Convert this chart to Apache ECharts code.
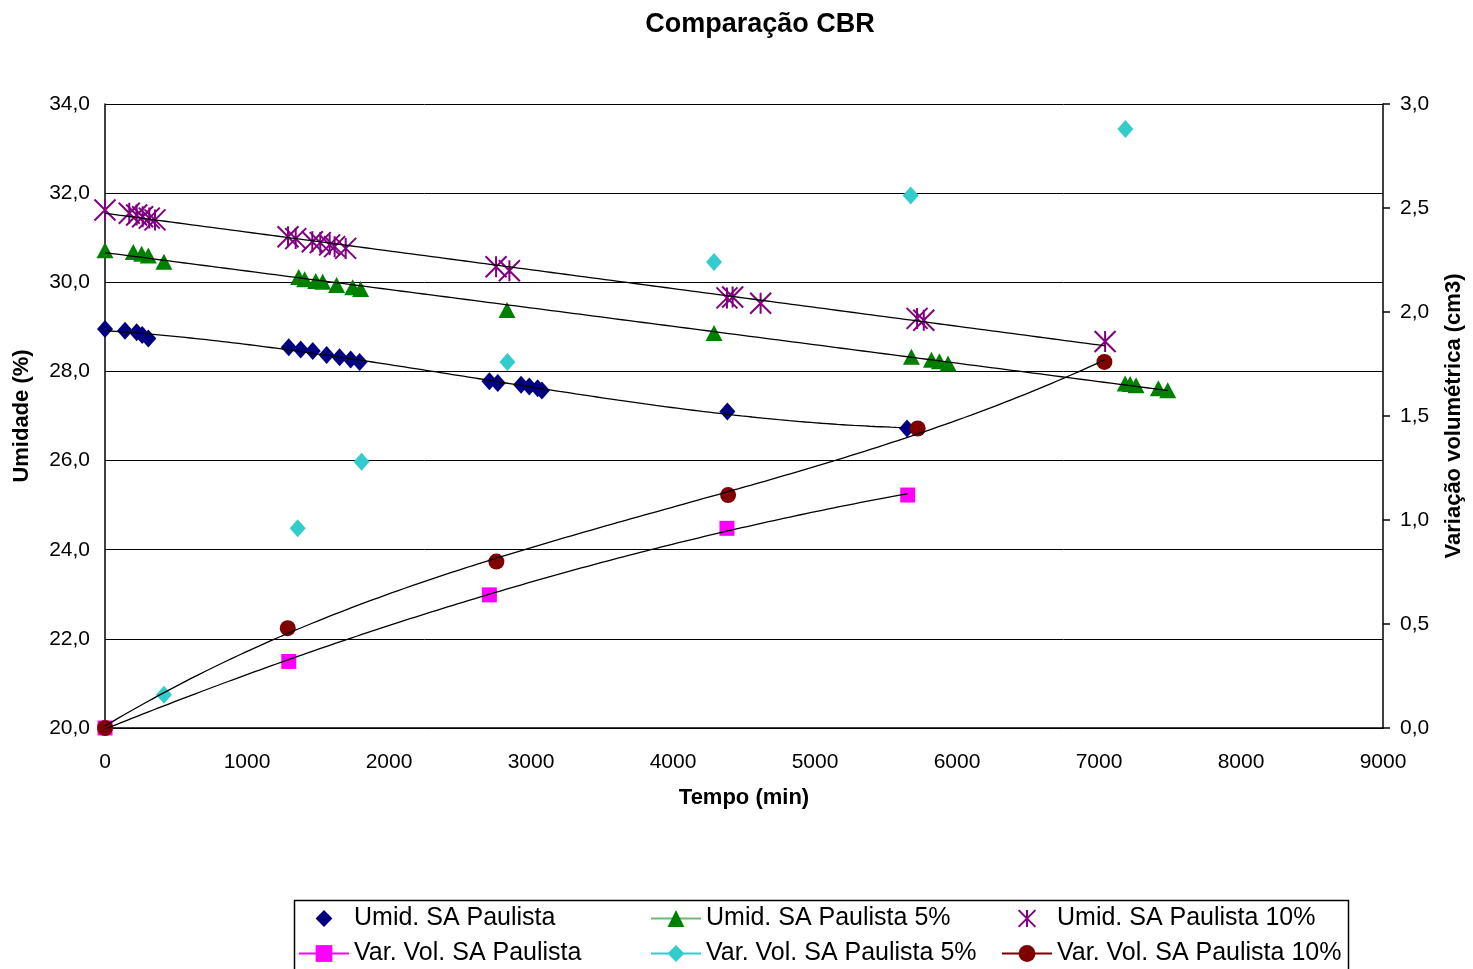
<!DOCTYPE html>
<html>
<head>
<meta charset="utf-8">
<script src="https://cdn.jsdelivr.net/npm/echarts@6/dist/echarts.min.js"></script>
<style>
html,body{margin:0;padding:0;background:#fff;}
#chart{width:1473px;height:969px;}
</style>
</head>
<body>
<div id="chart"></div>
<script>
// ---- Data ----
const umidSP_t = [0, 141, 223, 262, 305, 1294, 1378, 1463, 1561, 1652, 1730, 1793, 2707, 2766, 2930, 2988, 3047, 3077, 4383, 5648];
const umidSP_v = [28.95, 28.91, 28.88, 28.82, 28.74, 28.54, 28.49, 28.46, 28.37, 28.32, 28.27, 28.21, 27.78, 27.74, 27.70, 27.66, 27.62, 27.57, 27.10, 26.72];

const umid5_t = [0, 199, 258, 305, 415, 1364, 1406, 1484, 1533, 1631, 1744, 1800, 2831, 4289, 5679, 5820, 5876, 5937, 7184, 7219, 7261, 7418, 7484];
const umid5_v = [30.72, 30.68, 30.64, 30.60, 30.46, 30.12, 30.07, 30.03, 30.01, 29.94, 29.89, 29.85, 29.38, 28.86, 28.33, 28.26, 28.23, 28.18, 27.73, 27.72, 27.69, 27.62, 27.58];

const umid10_t = [0, 171, 223, 265, 312, 352, 1289, 1343, 1460, 1516, 1582, 1617, 1695, 2754, 2848, 4380, 4420, 4617, 5719, 5766, 7043];
const umid10_v = [31.62, 31.55, 31.51, 31.47, 31.44, 31.40, 31.02, 30.98, 30.91, 30.89, 30.84, 30.80, 30.76, 30.35, 30.26, 29.65, 29.67, 29.53, 29.19, 29.15, 28.67];

const vv_t = [0, 1294, 2707, 4380, 5653];
const vv_v = [0, 0.32, 0.64, 0.96, 1.12];

const vv5_t = [415, 1357, 1807, 2834, 4289, 5674, 7186];
const vv5_v = [0.16, 0.96, 1.28, 1.76, 2.24, 2.56, 2.88];

const vv10_t = [0, 1287, 2756, 4388, 5723, 7038];
const vv10_v = [0, 0.48, 0.80, 1.12, 1.44, 1.76];

const seriesNames = [
  'Umid. SA Paulista', 'Umid. SA Paulista 5%', 'Umid. SA Paulista 10%',
  'Var. Vol. SA Paulista', 'Var. Vol. SA Paulista 5%', 'Var. Vol. SA Paulista 10%'
];
const xTicks = {min: 0, max: 9000, step: 1000};
const yLeftTicks = {min: 20, max: 34, step: 2};
const yRightTicks = {min: 0, max: 3, step: 0.5};

// ---- helpers ----
function pairs(xs, ys) { return xs.map((x, i) => [x, ys[i]]); }
function polyfit(xs, ys, deg) {
  const s = 1000;
  const n = deg + 1;
  const A = Array.from({length: n}, () => new Array(n + 1).fill(0));
  for (let k = 0; k < xs.length; k++) {
    const x = xs[k] / s;
    for (let i = 0; i < n; i++) {
      for (let j = 0; j < n; j++) A[i][j] += Math.pow(x, i + j);
      A[i][n] += ys[k] * Math.pow(x, i);
    }
  }
  for (let i = 0; i < n; i++) {
    let p = i;
    for (let r = i + 1; r < n; r++) if (Math.abs(A[r][i]) > Math.abs(A[p][i])) p = r;
    [A[i], A[p]] = [A[p], A[i]];
    for (let r = 0; r < n; r++) {
      if (r === i) continue;
      const f = A[r][i] / A[i][i];
      for (let c = i; c <= n; c++) A[r][c] -= f * A[i][c];
    }
  }
  const coef = A.map((row, i) => row[n] / row[i]);
  return x => coef.reduce((acc, c, i) => acc + c * Math.pow(x / s, i), 0);
}
function trend(xs, ys, deg) {
  const f = polyfit(xs, ys, deg);
  const lo = Math.min(...xs), hi = Math.max(...xs);
  const out = [];
  const N = 150;
  for (let i = 0; i <= N; i++) { const x = lo + (hi - lo) * i / N; out.push([x, f(x)]); }
  return out;
}
const fmt = v => v.toFixed(1).replace('.', ',');
const FONT = 'Liberation Sans, Arial, sans-serif';
const ASTER = 'path://M0,0L20,20M20,0L0,20M10,0L10,20';

function trendSeries(xs, ys, deg, yIdx) {
  return {
    type: 'line', yAxisIndex: yIdx, data: trend(xs, ys, deg),
    showSymbol: false, symbol: 'none', silent: true, z: 5,
    lineStyle: {color: '#000', width: 1.3}, tooltip: {show: false}
  };
}
function markSeries(name, xs, ys, yIdx, symbol, size, itemStyle, lineColor) {
  return {
    name: name, type: 'line', yAxisIndex: yIdx, data: pairs(xs, ys),
    symbol: symbol, symbolSize: size, showSymbol: true, showAllSymbol: true,
    lineStyle: {opacity: 0, width: 2, color: lineColor}, itemStyle: itemStyle, z: 3
  };
}

const chart = echarts.init(document.getElementById('chart'), null, {renderer: 'canvas'});
const legendBase = {
  orient: 'vertical', top: 906, itemWidth: 50, itemHeight: 21, itemGap: 10, padding: 0,
  height: 120, selectedMode: false,
  textStyle: {fontFamily: FONT, fontSize: 25, color: '#000', lineHeight: 25}
};
const noLine = {opacity: 0};
const option = {
  backgroundColor: '#fff',
  animation: false,
  textStyle: {fontFamily: FONT},
  title: {
    text: 'Comparação CBR', left: 755, top: 6, textAlign: 'center',
    textStyle: {fontFamily: FONT, fontSize: 27, fontWeight: 'bold', color: '#000'}
  },
  grid: {left: 105, right: 88, top: 104, bottom: 241, containLabel: false},
  xAxis: {
    type: 'value', min: xTicks.min, max: xTicks.max, interval: xTicks.step,
    name: 'Tempo (min)', nameLocation: 'middle', nameGap: 59,
    nameTextStyle: {fontFamily: FONT, fontSize: 22, fontWeight: 'bold', color: '#000'},
    axisLine: {show: true, lineStyle: {color: '#000', width: 1.5}},
    axisTick: {show: false},
    splitLine: {show: false},
    axisLabel: {fontFamily: FONT, fontSize: 21, color: '#000', margin: 24, formatter: v => String(v)}
  },
  yAxis: [{
    type: 'value', position: 'left', min: yLeftTicks.min, max: yLeftTicks.max, interval: yLeftTicks.step,
    name: 'Umidade (%)', nameLocation: 'middle', nameGap: 72, nameRotate: 90,
    nameTextStyle: {fontFamily: FONT, fontSize: 22, fontWeight: 'bold', color: '#000'},
    axisLine: {show: true, lineStyle: {color: '#000', width: 1.5}},
    axisTick: {show: false},
    splitLine: {show: true, lineStyle: {color: '#000', width: 1}},
    axisLabel: {fontFamily: FONT, fontSize: 21, color: '#000', margin: 15, formatter: fmt}
  }, {
    type: 'value', position: 'right', min: yRightTicks.min, max: yRightTicks.max, interval: yRightTicks.step,
    name: 'Variação volumétrica (cm3)', nameLocation: 'middle', nameGap: 60, nameRotate: 90,
    nameTextStyle: {fontFamily: FONT, fontSize: 22, fontWeight: 'bold', color: '#000'},
    axisLine: {show: true, lineStyle: {color: '#000', width: 1.5}},
    axisTick: {show: true, length: 7, lineStyle: {color: '#000', width: 1.5}},
    splitLine: {show: false},
    axisLabel: {fontFamily: FONT, fontSize: 21, color: '#000', margin: 17, formatter: fmt}
  }],
  legend: [
    Object.assign({}, legendBase, {left: 298, data: [
      {name: seriesNames[0], lineStyle: noLine},
      {name: seriesNames[3], lineStyle: {color: '#ff00ff', width: 2, opacity: 1}}
    ]}),
    Object.assign({}, legendBase, {left: 650, data: [
      {name: seriesNames[1], lineStyle: {color: '#6fb86f', width: 2, opacity: 1}},
      {name: seriesNames[4], lineStyle: {color: '#33cccc', width: 2, opacity: 1}}
    ]}),
    Object.assign({}, legendBase, {left: 1001, data: [
      {name: seriesNames[2], lineStyle: noLine},
      {name: seriesNames[5], lineStyle: {color: '#800000', width: 2, opacity: 1}}
    ]})
  ],
  graphic: [{
    type: 'rect', left: 292, top: 898, silent: true,
    shape: {width: 1054, height: 90},
    style: {fill: 'none', stroke: '#000', lineWidth: 1.5}
  }],
  series: [
    markSeries(seriesNames[0], umidSP_t, umidSP_v, 0, 'diamond', [16, 18], {color: '#000080', opacity: 1}, '#000080'),
    markSeries(seriesNames[1], umid5_t, umid5_v, 0, 'triangle', [17, 16], {color: '#008000', opacity: 1}, '#6fb86f'),
    markSeries(seriesNames[2], umid10_t, umid10_v, 0, ASTER, 21,
      {color: 'rgba(0,0,0,0)', borderColor: '#800080', borderWidth: 2, opacity: 1}, '#800080'),
    markSeries(seriesNames[3], vv_t, vv_v, 1, 'rect', 15, {color: '#ff00ff', opacity: 1}, '#ff00ff'),
    markSeries(seriesNames[4], vv5_t, vv5_v, 1, 'diamond', [16, 18], {color: '#33cccc', opacity: 1}, '#33cccc'),
    markSeries(seriesNames[5], vv10_t, vv10_v, 1, 'circle', 16, {color: '#800000', opacity: 1}, '#800000'),
    trendSeries(umidSP_t, umidSP_v, 3, 0),
    trendSeries(umid5_t, umid5_v, 1, 0),
    trendSeries(umid10_t, umid10_v, 1, 0),
    trendSeries(vv_t, vv_v, 2, 1),
    trendSeries(vv10_t, vv10_v, 3, 1)
  ]
};
chart.setOption(option);
</script>
</body>
</html>
